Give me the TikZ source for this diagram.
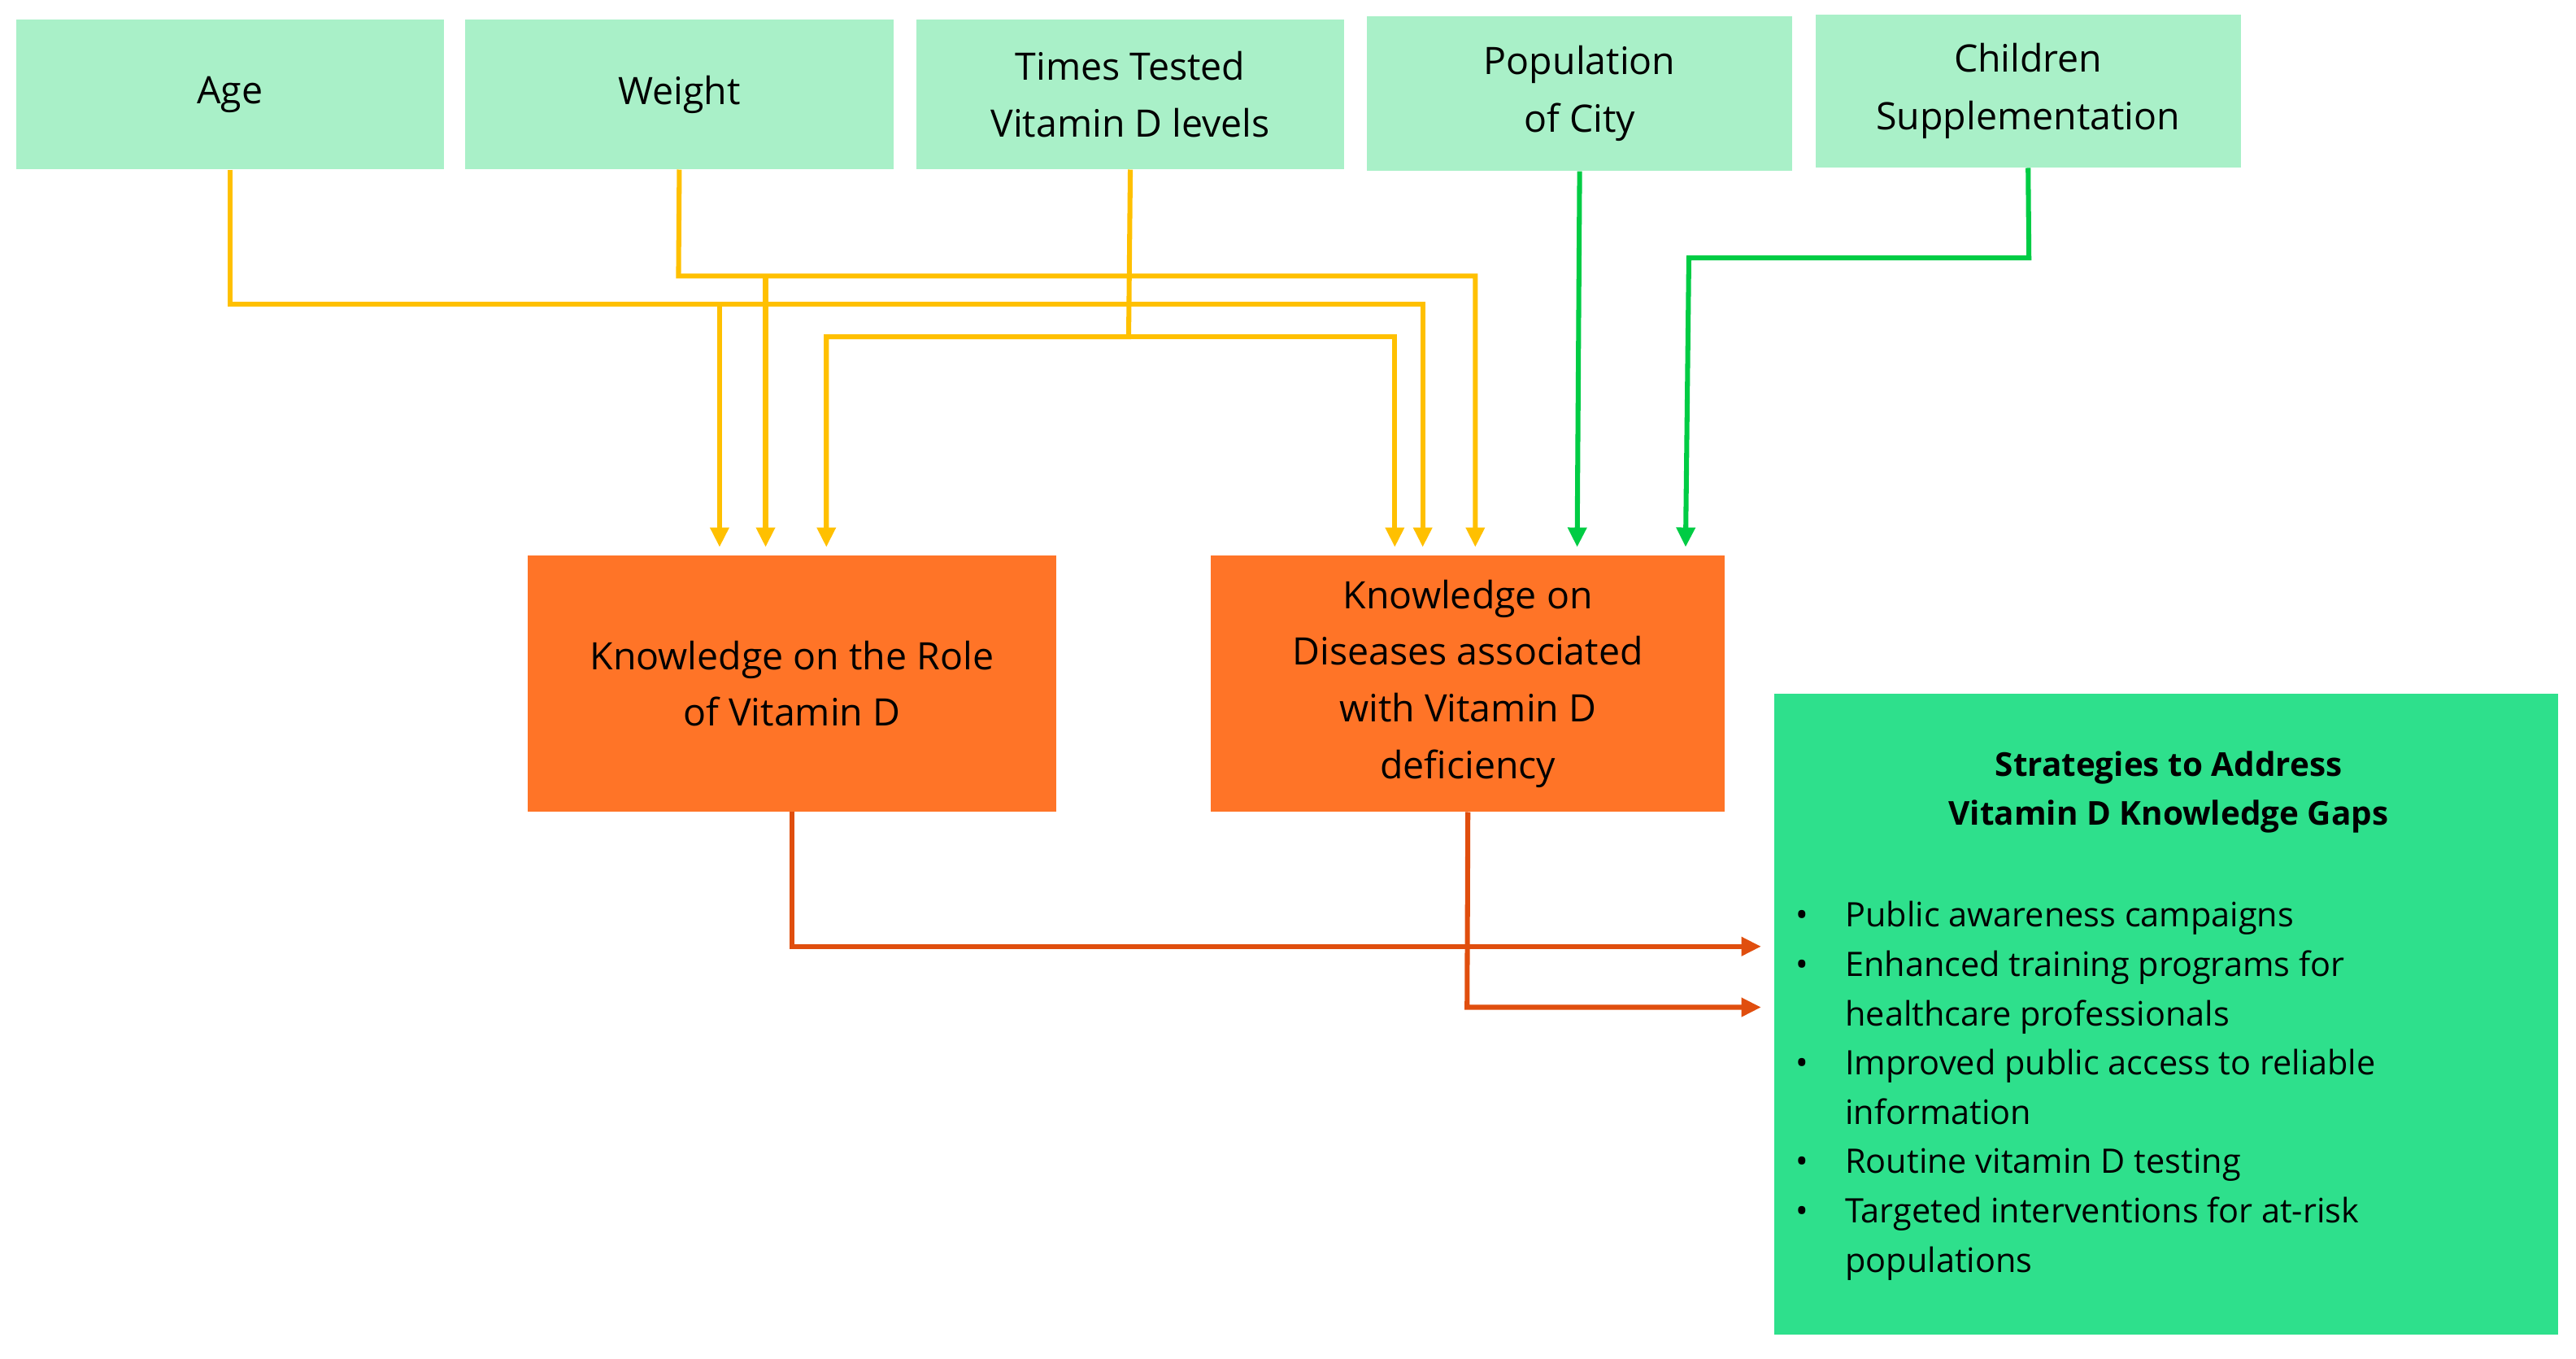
\documentclass[tikz,border=0pt]{standalone}
\usepackage{fontspec}
\setmainfont{Open Sans}
\usetikzlibrary{arrows.meta}
\definecolor{lg}{HTML}{A9F0C8}
\definecolor{og}{HTML}{FF7427}
\definecolor{sg}{HTML}{2EE08C}
\definecolor{yl}{HTML}{FFC000}
\definecolor{gl}{HTML}{00CC44}
\definecolor{dor}{HTML}{E04E0E}
\begin{document}
\begin{tikzpicture}[x=1pt,y=-1pt,
 top/.style={fill=lg,draw=none,inner sep=0pt,align=center,font=\fontsize{23}{35}\selectfont},
 mid/.style={fill=og,draw=none,inner sep=0pt,align=center,font=\fontsize{23}{34.5}\selectfont},
 ar/.style={line width=3pt,-{Triangle[width=11pt,length=12pt]}}]
\useasboundingbox (0,0) rectangle (1568,827);
\node[top,minimum width=260pt,minimum height=91pt] (age) at (140,57.5) {Age};
\node[top,minimum width=261pt,minimum height=91pt] (wt) at (413.5,57.5) {Weight};
\node[top,minimum width=260pt,minimum height=91pt] (tt) at (688,57.5) {Times Tested\\Vitamin D levels};
\node[top,minimum width=259pt,minimum height=94pt] (pop) at (961.5,57) {Population\\of City};
\node[top,minimum width=259pt,minimum height=93pt] (ch) at (1234.5,55.5) {Children\\Supplementation};
\node[mid,minimum width=322pt,minimum height=156pt] (k1) at (482,416) {Knowledge on the Role\\of Vitamin D};
\node[mid,minimum width=313pt,minimum height=156pt] (k2) at (893.5,416) {Knowledge on\\Diseases associated\\with Vitamin D\\deficiency};
\node[fill=sg,minimum width=477pt,minimum height=390pt,inner sep=0pt] (st) at (1318.5,617) {};
\node[font=\fontsize{20}{30}\selectfont\bfseries,align=center] (stt) at (1320,482) {Strategies to Address\\Vitamin D Knowledge Gaps};
\node[anchor=north west,inner sep=0pt,font=\fontsize{20.5}{30}\selectfont] (lst) at (1093,543) {%
\begin{tabular}{@{}p{30pt}@{}l@{}}
\textbullet & Public awareness campaigns\\
\textbullet & Enhanced training programs for\\
 & healthcare professionals\\
\textbullet & Improved public access to reliable\\
 & information\\
\textbullet & Routine vitamin D testing\\
\textbullet & Targeted interventions for at-risk\\
 & populations
\end{tabular}};
\begin{scope}[yl]
\draw[ar,yl] (age.south) -- (140,185) -- (866,185) -- (866,333);
\draw[ar,yl] (438,185) -- (438,333);
\draw[ar,yl] (wt.south) -- (413,168) -- (898,168) -- (898,333);
\draw[ar,yl] (466,168) -- (466,333);
\draw[ar,yl] (tt.south) -- (687,205) -- (503,205) -- (503,333);
\draw[ar,yl] (687,205) -- (849,205) -- (849,333);
\end{scope}
\draw[ar,gl] (pop.south) -- (960,333);
\draw[ar,gl] (ch.south) -- (1235,157) -- (1028,157) -- (1026,333);
\draw[ar,dor] (k1.south) -- (482,576) -- (1072,576);
\draw[ar,dor] (k2.south) -- (893,613) -- (1072,613);
\end{tikzpicture}
\end{document}
